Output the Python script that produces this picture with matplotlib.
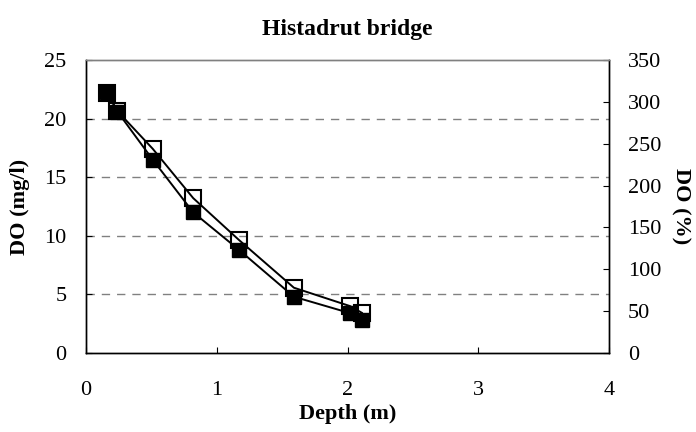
import matplotlib
matplotlib.use("Agg")
import matplotlib.pyplot as plt

depth = [0.16, 0.24, 0.51, 0.82, 1.17, 1.59, 2.02, 2.11]
do_mgl = [22.3, 20.6, 16.5, 12.0, 8.8, 4.8, 3.4, 2.8]
do_pct = [311, 289, 244, 185, 135, 78, 56, 48]

plt.rcParams['font.family'] = ['Liberation Serif', 'DejaVu Serif']

fig = plt.figure(figsize=(6.96, 4.32), dpi=100)
ax = fig.add_axes([86/696, 1-353/432, (609-86)/696, (353-60)/432])
ax2 = ax.twinx()

ax.plot(depth, do_mgl, color='black', lw=1.4, marker='s', markersize=9.5,
        markerfacecolor='black', markeredgecolor='black', zorder=3)
ax2.plot(depth, do_pct, color='black', lw=1.4, marker='s', markersize=11.5,
         markerfacecolor='none', markeredgecolor='black', markeredgewidth=1.5, zorder=3)

ax.set_xlim(0, 4)
ax.set_ylim(0, 25)
ax2.set_ylim(0, 350)
ax.set_xticks([0, 1, 2, 3, 4])
ax.set_yticks([0, 5, 10, 15, 20, 25])
ax2.set_yticks([0, 50, 100, 150, 200, 250, 300, 350])

for y in [5, 10, 15, 20]:
    ax.axhline(y, color='#808080', lw=1.0, ls=(0, (6, 5)), zorder=1)

for a in (ax, ax2):
    for s in a.spines.values():
        s.set_color('black')
        s.set_linewidth(1.0)
ax.spines['top'].set_color('#808080')
ax2.spines['top'].set_color('#808080')

ax.tick_params(axis='y', direction='in', length=4, labelsize=16, pad=14)
ax.tick_params(axis='x', direction='in', length=4, labelsize=16, pad=20)
ax2.tick_params(axis='y', direction='in', length=4, labelsize=16, pad=13.5)

ax.set_xlabel('Depth (m)', fontsize=16, fontweight='bold', labelpad=3)
ax.set_ylabel('DO (mg/l)', fontsize=16, fontweight='bold', labelpad=10)
ax2.set_ylabel('DO (%)', fontsize=16, fontweight='bold', rotation=270, labelpad=21)
ax.set_title('Histadrut bridge', fontsize=17, fontweight='bold', pad=18)

fig.savefig('out.png', dpi=100)
